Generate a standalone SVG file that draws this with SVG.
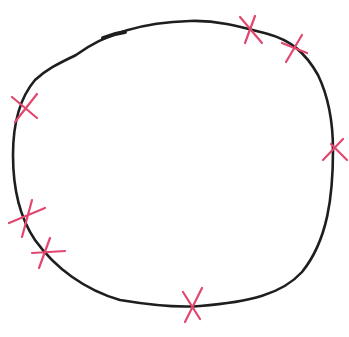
<svg xmlns="http://www.w3.org/2000/svg" width="349" height="337" viewBox="0 0 349 337">
<style>
.loop{fill:none;stroke:#1e1e1e;stroke-width:2.6;stroke-linecap:round;stroke-linejoin:round}
.x{fill:none;stroke:#e2476f;stroke-width:2.2;stroke-linecap:round}
</style>
<rect width="349" height="337" fill="#fff"/>
<g id="loop">
<path class="loop" d="M 76,55 C 110,30 150,22 190,21 C 220,20 245,28 268,34 C 290,40 305,52 318,75 C 330,100 333,125 333,150 C 333,195 328,240 302,272 C 282,294 250,302 200,306 C 175,308 150,305 120,300 C 85,290 55,268 35,240 C 18,215 13,185 13,155 C 13,130 18,100 35,80 C 48,68 62,62 76,55 Z"/>
<path class="loop" style="stroke-width:4" d="M 103,38 C 110,35 118,33 125,32"/>
</g>
<g id="marks">
<path class="x" d="M240,17 L262,43 M255,16 L245,43"/>
<path class="x" d="M302,35 L286,62 M282,43 L307,53"/>
<path class="x" d="M12,97 L37,118 M37,94 L15,122"/>
<path class="x" d="M32,200 L22,237 M9,223 L45,208"/>
<path class="x" d="M50,238 L39,268 M32,253 L65,251"/>
<path class="x" d="M183,292 L200,319 M202,288 L185,322"/>
<path class="x" d="M343,139 L323,160 M331,144 L347,160"/>
</g>
</svg>
